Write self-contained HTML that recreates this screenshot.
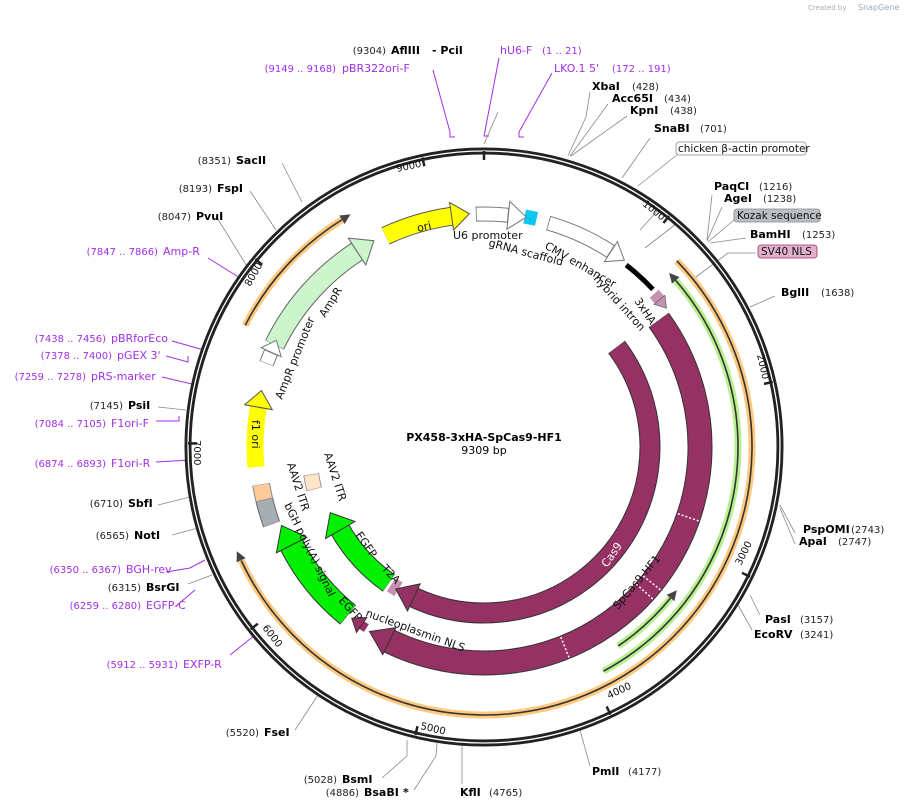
<!DOCTYPE html>
<html><head><meta charset="utf-8"><style>
html,body{margin:0;padding:0;background:#fff;}
svg{display:block;font-family:"DejaVu Sans","Liberation Sans",sans-serif;}
.n{font-size:10px;fill:#222;}
.b{font-size:11px;font-weight:bold;fill:#000;}
.p{font-size:11px;fill:#a22ee8;}
.pn{font-size:10px;fill:#a22ee8;}
.f{font-size:11px;fill:#111;}
.t{font-size:10px;fill:#111;}
.e{text-anchor:end;}
</style></head><body>
<svg width="905" height="809" viewBox="0 0 905 809" xmlns="http://www.w3.org/2000/svg">
<text x="808" y="10" style="font-size:7px;fill:#aaa">Created by</text>
<text x="858" y="10" style="font-size:8px;fill:#9ab">SnapGene</text>

<!-- site lines -->
<g stroke="#888" stroke-width="0.8" fill="none">
<polyline points="484,144 498,112"/>
<polyline points="568,156 586,117 590,92"/>
<polyline points="570,156 608,104"/>
<polyline points="571,156 627,116"/>
<polyline points="622,178 650,138"/>
<polyline points="638,186 678,154"/>
<polyline points="707,240 712,195"/>
<polyline points="707,241 722,207"/>
<polyline points="708,242 734,220"/>
<polyline points="710,243 746,238"/>
<polyline points="692,280 728,253 756,253"/>
<polyline points="750,307 775,296"/>
<polyline points="780,505 795,533"/>
<polyline points="780,508 795,544"/>
<polyline points="750,595 760,615"/>
<polyline points="738,605 752,630"/>
<polyline points="580,730 590,766"/>
<polyline points="462,745 462,784"/>
<polyline points="437,743 436,756 414,790"/>
<polyline points="407,740 407,756 382,778"/>
<polyline points="318,695 295,730"/>
<polyline points="212,575 188,584"/>
<polyline points="198,528 172,535"/>
<polyline points="190,497 158,505"/>
<polyline points="186,410 158,407"/>
<polyline points="248,268 216,216"/>
<polyline points="276,230 250,191"/>
<polyline points="302,202 282,163"/>
<polyline points="660,208 640,230"/>
<polyline points="676,224 645,248"/>
</g>
<g stroke="#a22ee8" stroke-width="1" fill="none">
<polyline points="433,70 450,132 450,137 455,137"/>
<polyline points="499,58 484,136 489,136"/>
<polyline points="552,73 519,132 519,137 524,137"/>
<polyline points="208,258 240,278"/>
<polyline points="172,341 204,350"/>
<polyline points="166,356 188,362 188,356"/>
<polyline points="162,377 196,385"/>
<polyline points="156,421 179,421 179,416"/>
<polyline points="156,462 190,460"/>
<polyline points="166,572 190,568 205,560"/>
<polyline points="176,606 195,590"/>
<polyline points="230,655 255,635"/>
</g>

<!-- backbone -->
<circle cx="484" cy="447" r="296" fill="none" stroke="#222" stroke-width="7"/>
<circle cx="484" cy="447" r="296" fill="none" stroke="#fff" stroke-width="1.3"/>
<!-- ticks -->
<g stroke="#222" stroke-width="2.5">
<line x1="484" y1="151" x2="484" y2="160" transform="rotate(0 484 447)"/>
<line x1="484" y1="151" x2="484" y2="160" transform="rotate(38.7 484 447)"/>
<line x1="484" y1="151" x2="484" y2="160" transform="rotate(77.3 484 447)"/>
<line x1="484" y1="151" x2="484" y2="160" transform="rotate(116 484 447)"/>
<line x1="484" y1="151" x2="484" y2="160" transform="rotate(154.7 484 447)"/>
<line x1="484" y1="151" x2="484" y2="160" transform="rotate(193.4 484 447)"/>
<line x1="484" y1="151" x2="484" y2="160" transform="rotate(232 484 447)"/>
<line x1="484" y1="151" x2="484" y2="160" transform="rotate(270.7 484 447)"/>
<line x1="484" y1="151" x2="484" y2="160" transform="rotate(309.4 484 447)"/>
<line x1="484" y1="151" x2="484" y2="160" transform="rotate(348 484 447)"/>
</g>
<g class="t">
<text x="0" y="0" transform="translate(397,172) rotate(-12)">9000</text>
<text x="0" y="0" transform="translate(642,205) rotate(39)">1000</text>
<text x="0" y="0" transform="translate(757,355) rotate(77)">2000</text>
<text x="0" y="0" transform="translate(741,566) rotate(-64)">3000</text>
<text x="0" y="0" transform="translate(609,699) rotate(-25)">4000</text>
<text x="0" y="0" transform="translate(420,729) rotate(13)">5000</text>
<text x="0" y="0" transform="translate(262,628) rotate(52)">6000</text>
<text x="0" y="0" transform="translate(194,440) rotate(90)">7000</text>
<text x="0" y="0" transform="translate(250,287) rotate(-60)">8000</text>
</g>

<!-- orange & green outer arcs -->
<g fill="none">
<circle cx="484" cy="447" r="268" pathLength="360" stroke="#ffc97f" stroke-width="7" stroke-dasharray="199 400" transform="rotate(-44 484 447)"/>
<circle cx="484" cy="447" r="268" pathLength="360" stroke="#333" stroke-width="1.6" stroke-dasharray="199 400" transform="rotate(-44 484 447)"/>
<circle cx="484" cy="447" r="268" pathLength="360" stroke="#ffc97f" stroke-width="7" stroke-dasharray="31 400" transform="rotate(207 484 447)"/>
<circle cx="484" cy="447" r="268" pathLength="360" stroke="#333" stroke-width="1.6" stroke-dasharray="31 400" transform="rotate(207 484 447)"/>
<circle cx="484" cy="447" r="254" pathLength="360" stroke="#b8f090" stroke-width="7" stroke-dasharray="103 400" transform="rotate(-41 484 447)"/>
<circle cx="484" cy="447" r="254" pathLength="360" stroke="#333" stroke-width="1.6" stroke-dasharray="103 400" transform="rotate(-41 484 447)"/>
<circle cx="484" cy="447" r="240" pathLength="360" stroke="#b8f090" stroke-width="7" stroke-dasharray="17 400" transform="rotate(39 484 447)"/>
<circle cx="484" cy="447" r="240" pathLength="360" stroke="#333" stroke-width="1.6" stroke-dasharray="17 400" transform="rotate(39 484 447)"/>
</g>
<polygon points="484,174 494,179 484,184" fill="#444" transform="rotate(245 484 447)"/>
<polygon points="484,174 494,179 484,184" fill="#444" transform="rotate(328 484 447)"/>
<polygon points="484,188 474,193 484,198" fill="#444" transform="rotate(49 484 447)"/>
<polygon points="484,202 474,207 484,212" fill="#444" transform="rotate(129 484 447)"/>

<!-- outer track r232 -->
<g fill="none">
<circle cx="484" cy="447" r="233" pathLength="360" stroke="#555" stroke-width="19" stroke-dasharray="17 400" transform="rotate(245 484 447)"/>
<circle cx="484" cy="447" r="233" pathLength="360" stroke="#ffff00" stroke-width="17" stroke-dasharray="17 400" transform="rotate(245 484 447)"/>
<circle cx="484" cy="447" r="233" pathLength="360" stroke="#777" stroke-width="15" stroke-dasharray="8 400" transform="rotate(-92 484 447)"/>
<circle cx="484" cy="447" r="233" pathLength="360" stroke="#fff" stroke-width="13" stroke-dasharray="7.6 400" transform="rotate(-91.8 484 447)"/>
<circle cx="484" cy="447" r="234" pathLength="360" stroke="#0bc8f0" stroke-width="14" stroke-dasharray="3 400" transform="rotate(-80 484 447)"/>
<circle cx="484" cy="447" r="233" pathLength="360" stroke="#777" stroke-width="15" stroke-dasharray="17 400" transform="rotate(-74 484 447)"/>
<circle cx="484" cy="447" r="233" pathLength="360" stroke="#fff" stroke-width="13" stroke-dasharray="16.6 400" transform="rotate(-73.8 484 447)"/>
<circle cx="484" cy="447" r="231" pathLength="360" stroke="#000" stroke-width="5" stroke-dasharray="9 400" transform="rotate(-52 484 447)"/>
<circle cx="484" cy="447" r="229" pathLength="360" stroke="#c890b0" stroke-width="12" stroke-dasharray="2 400" transform="rotate(-42 484 447)"/>
<circle cx="484" cy="447" r="233" pathLength="360" stroke="#777" stroke-width="15" stroke-dasharray="3 400" transform="rotate(201 484 447)"/>
<circle cx="484" cy="447" r="233" pathLength="360" stroke="#fff" stroke-width="13" stroke-dasharray="2.7 400" transform="rotate(201.1 484 447)"/>
<circle cx="484" cy="447" r="233" pathLength="360" stroke="#666" stroke-width="21" stroke-dasharray="31 400" transform="rotate(206 484 447)"/>
<circle cx="484" cy="447" r="233" pathLength="360" stroke="#ccf5cc" stroke-width="19" stroke-dasharray="30.8 400" transform="rotate(206.1 484 447)"/>
<circle cx="484" cy="447" r="229" pathLength="360" stroke="#ffff00" stroke-width="17" stroke-dasharray="15 400" transform="rotate(175 484 447)"/>
<circle cx="484" cy="447" r="226" pathLength="360" stroke="#666" stroke-width="18" stroke-dasharray="6.5 400" transform="rotate(160 484 447)"/>
<circle cx="484" cy="447" r="226" pathLength="360" stroke="#a8adb4" stroke-width="16" stroke-dasharray="6.3 400" transform="rotate(160.1 484 447)"/>
<circle cx="484" cy="447" r="226" pathLength="360" stroke="#888" stroke-width="18" stroke-dasharray="4 400" transform="rotate(166.5 484 447)"/>
<circle cx="484" cy="447" r="226" pathLength="360" stroke="#ffcc99" stroke-width="16" stroke-dasharray="3.8 400" transform="rotate(166.6 484 447)"/>
<circle cx="484" cy="447" r="175" pathLength="360" stroke="#999" stroke-width="16" stroke-dasharray="5 400" transform="rotate(166 484 447)"/>
<circle cx="484" cy="447" r="175" pathLength="360" stroke="#ffe4c8" stroke-width="14" stroke-dasharray="4.6 400" transform="rotate(166.2 484 447)"/>
</g>
<!-- heads outer track -->
<polygon points="484,200 502,214 484,228" fill="#ffff00" stroke="#555" stroke-width="1" transform="rotate(352 484 447)"/>
<polygon points="484,200 502,214 484,228" fill="#fff" stroke="#777" stroke-width="1" transform="rotate(6 484 447)"/>
<polygon points="484,202 500,214 484,226" fill="#fff" stroke="#777" stroke-width="1" transform="rotate(33 484 447)"/>
<polygon points="484,198 504,214 484,230" fill="#ccf5cc" stroke="#666" stroke-width="1" transform="rotate(327 484 447)"/>
<polygon points="484,203 497,214 484,225" fill="#fff" stroke="#777" stroke-width="1" transform="rotate(294 484 447)"/>
<polygon points="484,204 501,218 484,232" fill="#ffff00" stroke="#555" stroke-width="1" transform="rotate(280 484 447)"/>
<polygon points="484,211 495,218 484,225" fill="#c890b0" stroke="#666" stroke-width="0.8" transform="rotate(50 484 447)"/>

<!-- maroon and EGFP -->
<g fill="none">
<circle cx="484" cy="447" r="216" pathLength="360" stroke="#333" stroke-width="25" stroke-dasharray="152 400" transform="rotate(-36 484 447)"/>
<circle cx="484" cy="447" r="216" pathLength="360" stroke="#963263" stroke-width="23" stroke-dasharray="151.8 400" transform="rotate(-35.9 484 447)"/>
<circle cx="484" cy="447" r="166" pathLength="360" stroke="#333" stroke-width="21" stroke-dasharray="152 400" transform="rotate(-37 484 447)"/>
<circle cx="484" cy="447" r="166" pathLength="360" stroke="#963263" stroke-width="19" stroke-dasharray="151.8 400" transform="rotate(-36.9 484 447)"/>
<circle cx="484" cy="447" r="216" pathLength="360" stroke="#333" stroke-width="25" stroke-dasharray="24 400" transform="rotate(129 484 447)"/>
<circle cx="484" cy="447" r="216" pathLength="360" stroke="#00f000" stroke-width="23" stroke-dasharray="23.8 400" transform="rotate(129.1 484 447)"/>
<circle cx="484" cy="447" r="166" pathLength="360" stroke="#333" stroke-width="21" stroke-dasharray="25 400" transform="rotate(125 484 447)"/>
<circle cx="484" cy="447" r="166" pathLength="360" stroke="#00f000" stroke-width="19" stroke-dasharray="24.8 400" transform="rotate(125.1 484 447)"/>
<circle cx="484" cy="447" r="166" pathLength="360" stroke="#c890b0" stroke-width="16" stroke-dasharray="3 400" transform="rotate(121 484 447)"/>
<circle cx="484" cy="447" r="216" pathLength="360" stroke="#963263" stroke-width="9" stroke-dasharray="1.5 400" transform="rotate(123 484 447)"/>
</g>
<polygon points="484,216 506,231 484,246" fill="#963263" stroke="#333" stroke-width="1" transform="rotate(206 484 447)"/>
<polygon points="484,266 504,281 484,296" fill="#963263" stroke="#333" stroke-width="1" transform="rotate(205 484 447)"/>
<polygon points="484,222 496,231 484,240" fill="#963263" stroke="#333" stroke-width="1" transform="rotate(214.5 484 447)"/>
<polygon points="484,214 506,231 484,248" fill="#00f000" stroke="#333" stroke-width="1" transform="rotate(243 484 447)"/>
<polygon points="484,264 504,281 484,298" fill="#00f000" stroke="#333" stroke-width="1" transform="rotate(240 484 447)"/>
<g stroke="#fff" stroke-width="1.5" stroke-dasharray="2 2">
<line x1="484" y1="220" x2="484" y2="242" transform="rotate(109 484 447)"/>
<line x1="484" y1="220" x2="484" y2="242" transform="rotate(129 484 447)"/>
<line x1="484" y1="220" x2="484" y2="242" transform="rotate(132 484 447)"/>
<line x1="484" y1="220" x2="484" y2="242" transform="rotate(158 484 447)"/>
</g>

<!-- feature labels -->
<text x="0" y="0" class="f" transform="translate(418,232) rotate(-13)">ori</text>
<text x="453" y="239" class="f">U6 promoter</text>
<text x="0" y="0" class="f" transform="translate(488,246) rotate(15)">gRNA scaffold</text>
<text x="0" y="0" class="f" transform="translate(544,248) rotate(30)">CMV enhancer</text>
<text x="0" y="0" class="f" transform="translate(593,279) rotate(48)">hybrid intron</text>
<text x="0" y="0" class="f" transform="translate(634,301) rotate(56)">3xHA</text>
<text x="0" y="0" class="f" style="fill:#fff" transform="translate(607,568) rotate(-55)">Cas9</text>
<text x="0" y="0" class="f" transform="translate(618,610) rotate(-50)">SpCas9-HF1</text>
<text x="0" y="0" class="f" transform="translate(365,616) rotate(20)">nucleoplasmin NLS</text>
<text x="0" y="0" class="f" transform="translate(338,601) rotate(47)">EGFP</text>
<text x="0" y="0" class="f" transform="translate(381,569) rotate(47)">T2A</text>
<text x="0" y="0" class="f" transform="translate(355,535) rotate(55)">EGFP</text>
<text x="0" y="0" class="f" transform="translate(284,505) rotate(64)">bGH poly(A) signal</text>
<text x="0" y="0" class="f" transform="translate(287,464) rotate(72)">AAV2 ITR</text>
<text x="0" y="0" class="f" transform="translate(324,454) rotate(72)">AAV2 ITR</text>
<text x="0" y="0" class="f" transform="translate(252,420) rotate(90)">f1 ori</text>
<text x="0" y="0" class="f" transform="translate(282,400) rotate(-68)">AmpR promoter</text>
<text x="0" y="0" class="f" transform="translate(325,318) rotate(-58)">AmpR</text>

<text x="484" y="441" text-anchor="middle" style="font-size:11px;font-weight:bold">PX458-3xHA-SpCas9-HF1</text>
<text x="484" y="454" text-anchor="middle" style="font-size:11px">9309 bp</text>

<!-- site labels -->
<text x="386" y="54" class="n e">(9304)</text><text x="391" y="54" class="b">AflIII</text><text x="432" y="54" class="b">- PciI</text>
<text x="500" y="54" class="p">hU6-F</text><text x="542" y="54" class="pn">(1 .. 21)</text>
<text x="336" y="72" class="pn e">(9149 .. 9168)</text><text x="342" y="72" class="p">pBR322ori-F</text>
<text x="554" y="72" class="p">LKO.1 5'</text><text x="612" y="72" class="pn">(172 .. 191)</text>
<text x="592" y="90" class="b">XbaI</text><text x="632" y="90" class="n">(428)</text>
<text x="612" y="102" class="b">Acc65I</text><text x="664" y="102" class="n">(434)</text>
<text x="630" y="114" class="b">KpnI</text><text x="670" y="114" class="n">(438)</text>
<text x="654" y="132" class="b">SnaBI</text><text x="700" y="132" class="n">(701)</text>
<rect x="676" y="142" width="130" height="13" rx="3" fill="#fff" stroke="#888" stroke-width="0.8"/>
<text x="678" y="152" class="t" style="font-size:10.5px">chicken β-actin promoter</text>
<text x="714" y="190" class="b">PaqCI</text><text x="759" y="190" class="n">(1216)</text>
<text x="724" y="202" class="b">AgeI</text><text x="763" y="202" class="n">(1238)</text>
<rect x="734" y="209" width="86" height="13" rx="3" fill="#bbbec2" stroke="#888" stroke-width="0.8"/>
<text x="737" y="219" class="t" style="font-size:10.5px">Kozak sequence</text>
<text x="750" y="238" class="b">BamHI</text><text x="802" y="238" class="n">(1253)</text>
<rect x="758" y="245" width="59" height="13" rx="3" fill="#e0b0cc" stroke="#a03068" stroke-width="0.8"/>
<text x="761" y="255" class="t" style="font-size:10.5px">SV40 NLS</text>
<text x="781" y="296" class="b">BglII</text><text x="821" y="296" class="n">(1638)</text>
<text x="803" y="533" class="b">PspOMI</text><text x="851" y="533" class="n">(2743)</text>
<text x="799" y="545" class="b">ApaI</text><text x="838" y="545" class="n">(2747)</text>
<text x="765" y="623" class="b">PasI</text><text x="800" y="623" class="n">(3157)</text>
<text x="754" y="638" class="b">EcoRV</text><text x="800" y="638" class="n">(3241)</text>
<text x="592" y="775" class="b">PmlI</text><text x="628" y="775" class="n">(4177)</text>
<text x="460" y="796" class="b">KflI</text><text x="489" y="796" class="n">(4765)</text>
<text x="337" y="783" class="n e">(5028)</text><text x="342" y="783" class="b">BsmI</text>
<text x="359" y="796" class="n e">(4886)</text><text x="364" y="796" class="b">BsaBI</text><text x="403" y="796" class="b">*</text>
<text x="259" y="736" class="n e">(5520)</text><text x="264" y="736" class="b">FseI</text>
<text x="178" y="668" class="pn e">(5912 .. 5931)</text><text x="183" y="668" class="p">EXFP-R</text>
<text x="141" y="609" class="pn e">(6259 .. 6280)</text><text x="146" y="609" class="p">EGFP-C</text>
<text x="141" y="591" class="n e">(6315)</text><text x="146" y="591" class="b">BsrGI</text>
<text x="121" y="573" class="pn e">(6350 .. 6367)</text><text x="126" y="573" class="p">BGH-rev</text>
<text x="129" y="539" class="n e">(6565)</text><text x="134" y="539" class="b">NotI</text>
<text x="123" y="507" class="n e">(6710)</text><text x="128" y="507" class="b">SbfI</text>
<text x="106" y="467" class="pn e">(6874 .. 6893)</text><text x="111" y="467" class="p">F1ori-R</text>
<text x="106" y="427" class="pn e">(7084 .. 7105)</text><text x="111" y="427" class="p">F1ori-F</text>
<text x="123" y="409" class="n e">(7145)</text><text x="128" y="409" class="b">PsiI</text>
<text x="86" y="380" class="pn e">(7259 .. 7278)</text><text x="91" y="380" class="p">pRS-marker</text>
<text x="112" y="359" class="pn e">(7378 .. 7400)</text><text x="117" y="359" class="p">pGEX 3'</text>
<text x="106" y="342" class="pn e">(7438 .. 7456)</text><text x="111" y="342" class="p">pBRforEco</text>
<text x="158" y="255" class="pn e">(7847 .. 7866)</text><text x="163" y="255" class="p">Amp-R</text>
<text x="191" y="220" class="n e">(8047)</text><text x="196" y="220" class="b">PvuI</text>
<text x="212" y="192" class="n e">(8193)</text><text x="217" y="192" class="b">FspI</text>
<text x="231" y="164" class="n e">(8351)</text><text x="236" y="164" class="b">SacII</text>
</svg>
</body></html>
